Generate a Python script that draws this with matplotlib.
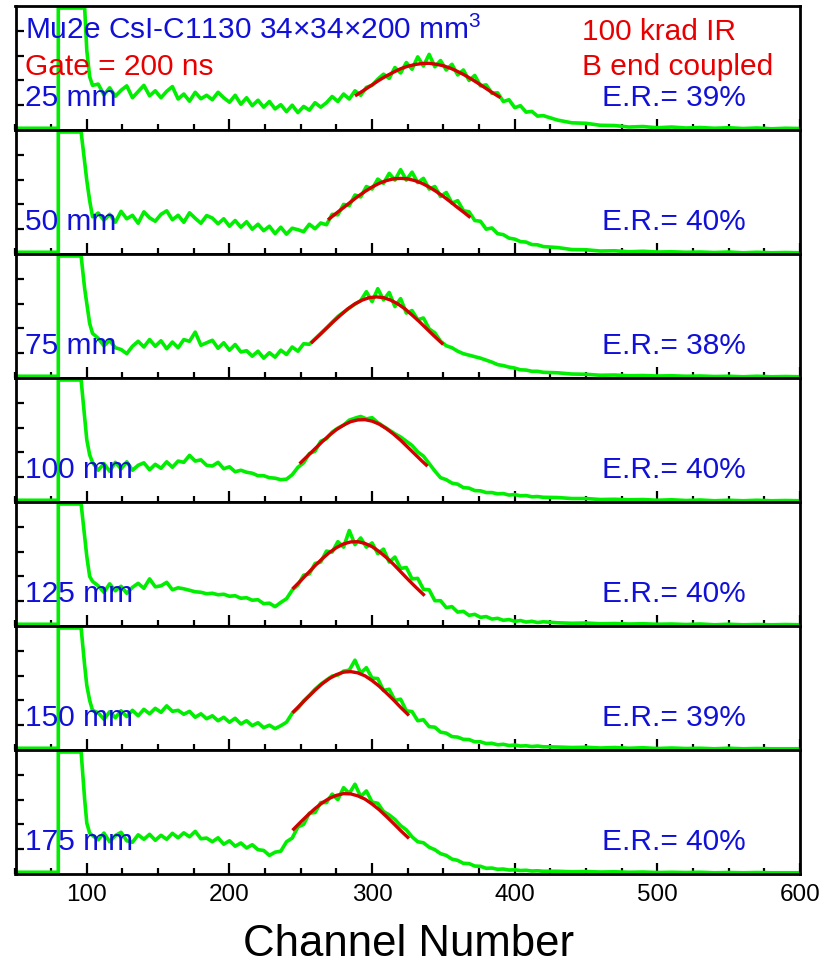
import numpy as np
import matplotlib
matplotlib.use("Agg")
import matplotlib.pyplot as plt

plt.rcParams['font.family'] = ['Liberation Sans', 'DejaVu Sans']
plt.rcParams['mathtext.default'] = 'regular'

# ---------------- data ----------------
head_ch = [50, 80, 80, 96, 98.5, 100, 102, 104]
body_ch = list(range(108, 424, 4))
tail_ch = list(range(430, 610, 10))
channels = head_ch + body_ch + tail_ch

distances = ['25 mm', '50 mm', '75 mm', '100 mm', '125 mm', '150 mm', '175 mm']
energy_res = ['39%', '40%', '38%', '40%', '40%', '39%', '40%']

counts_25 = [0.07, 0.07, 4.92, 4.92, 4.92, 3.2, 2.15, 1.8,
             1.85, 1.42, 1.70, 1.36, 1.60, 1.78, 1.30, 1.55, 1.80, 1.38,
             1.58, 1.30, 1.56, 1.75, 1.25, 1.45, 1.16, 1.52, 1.26, 1.40,
             1.22, 1.52, 1.30, 1.12, 1.40, 1.04, 1.30, 0.98, 1.20, 0.92,
             1.15, 0.85, 1.02, 0.74, 1.00, 0.70, 0.95, 0.80, 1.10, 0.92,
             1.10, 1.35, 1.15, 1.45, 1.25, 1.58, 1.40, 1.72, 1.80, 2.05,
             2.25, 2.08, 2.52, 2.30, 2.72, 2.45, 2.95, 2.58, 3.05, 2.55,
             2.80, 2.42, 2.65, 2.22, 2.42, 2.00, 2.20, 1.78, 1.82, 1.48,
             1.50, 1.15, 1.22, 0.90, 0.98, 0.72, 0.75, 0.56, 0.58,
             0.40, 0.29, 0.27, 0.19, 0.18, 0.12, 0.14, 0.09, 0.12, 0.08,
             0.10, 0.07, 0.09, 0.06, 0.08, 0.05, 0.07, 0.06]

counts_50 = [0.07, 0.07, 4.92, 4.92, 3.7, 2.96, 2.15, 1.5,
             1.65, 1.36, 1.60, 1.28, 1.72, 1.42, 1.56, 1.24, 1.70, 1.46,
             1.32, 1.60, 1.74, 1.38, 1.56, 1.28, 1.66, 1.44, 1.24, 1.55,
             1.45, 1.22, 1.42, 1.12, 1.35, 1.08, 1.30, 1.00, 1.20, 0.94,
             1.12, 0.82, 1.08, 0.80, 1.04, 0.98, 0.90, 1.20, 1.02, 1.25,
             1.18, 1.60, 1.58, 2.00, 1.95, 2.38, 2.30, 2.72, 2.62, 3.02,
             2.85, 3.25, 2.98, 3.40, 2.98, 3.30, 2.88, 3.05, 2.62, 2.72,
             2.32, 2.48, 2.05, 2.15, 1.75, 1.70, 1.35, 1.32, 1.00, 1.05,
             0.82, 0.78, 0.64, 0.60, 0.50, 0.48, 0.38, 0.37, 0.30,
             0.26, 0.18, 0.17, 0.12, 0.13, 0.09, 0.11, 0.08, 0.09, 0.07,
             0.08, 0.06, 0.08, 0.05, 0.07, 0.05, 0.06, 0.05]

counts_75 = [0.07, 0.07, 4.92, 4.92, 3.6, 3.0, 2.2, 1.8,
             1.60, 1.30, 1.52, 1.22, 1.15, 0.98, 1.28, 1.48, 1.25, 1.55,
             1.28, 1.50, 1.18, 1.45, 1.22, 1.55, 1.48, 1.85, 1.32, 1.42,
             1.52, 1.20, 1.42, 1.12, 1.35, 1.05, 1.10, 0.88, 1.08, 0.80,
             1.02, 0.84, 1.12, 0.95, 1.25, 1.08, 1.38, 1.36, 1.58, 1.80,
             2.02, 2.25, 2.48, 2.65, 2.82, 2.98, 3.12, 3.48, 3.08, 3.60,
             3.15, 3.45, 2.88, 3.20, 2.62, 2.72, 2.35, 2.42, 1.98, 1.82,
             1.48, 1.30, 1.22, 1.08, 0.98, 0.92, 0.86, 0.80, 0.72, 0.64,
             0.54, 0.50, 0.44, 0.40, 0.33, 0.32, 0.27, 0.27, 0.23,
             0.21, 0.16, 0.15, 0.11, 0.12, 0.09, 0.10, 0.08, 0.09, 0.07,
             0.08, 0.06, 0.07, 0.05, 0.07, 0.05, 0.06, 0.05]

counts_100 = [0.07, 0.07, 4.92, 4.92, 3.4, 2.5, 1.9, 1.6,
              1.28, 1.55, 1.24, 1.60, 1.34, 1.62, 1.28, 1.48, 1.58, 1.30,
              1.52, 1.36, 1.62, 1.40, 1.65, 1.60, 1.88, 1.65, 1.70, 1.48,
              1.45, 1.60, 1.34, 1.42, 1.22, 1.28, 1.20, 1.16, 1.06, 1.06,
              0.98, 0.96, 0.90, 0.92, 1.10, 1.40, 1.58, 1.95, 2.05, 2.45,
              2.55, 2.82, 2.98, 3.10, 3.30, 3.38, 3.45, 3.35, 3.40, 3.20,
              3.05, 2.90, 2.75, 2.62, 2.45, 2.28, 2.02, 1.85, 1.55, 1.25,
              0.98, 0.90, 0.76, 0.72, 0.58, 0.56, 0.46, 0.45, 0.38, 0.38,
              0.33, 0.34, 0.28, 0.30, 0.25, 0.26, 0.21, 0.22, 0.19,
              0.18, 0.14, 0.14, 0.10, 0.11, 0.09, 0.10, 0.07, 0.09, 0.06,
              0.08, 0.05, 0.07, 0.05, 0.07, 0.05, 0.06, 0.05]

counts_125 = [0.07, 0.07, 4.92, 4.92, 3.6, 2.8, 2.0, 1.8,
              1.62, 1.36, 1.70, 1.42, 1.60, 1.32, 1.56, 1.72, 1.52, 1.90,
              1.58, 1.62, 1.76, 1.46, 1.54, 1.50, 1.44, 1.38, 1.36, 1.30,
              1.32, 1.26, 1.28, 1.20, 1.22, 1.12, 1.14, 1.04, 1.06, 0.90,
              0.92, 0.78, 0.95, 1.10, 1.45, 1.65, 2.05, 2.10, 2.52, 2.58,
              3.02, 2.98, 3.40, 3.18, 3.85, 3.28, 3.55, 3.18, 3.35, 2.92,
              3.10, 2.58, 2.78, 2.32, 2.36, 1.90, 1.92, 1.48, 1.46, 1.02,
              1.02, 0.74, 0.78, 0.56, 0.59, 0.43, 0.47, 0.35, 0.38, 0.28,
              0.31, 0.23, 0.26, 0.19, 0.22, 0.16, 0.19, 0.14, 0.17,
              0.13, 0.11, 0.12, 0.09, 0.10, 0.08, 0.09, 0.07, 0.08, 0.06,
              0.08, 0.05, 0.07, 0.05, 0.06, 0.05, 0.06, 0.05]

counts_150 = [0.07, 0.07, 4.92, 4.92, 3.4, 2.6, 2.0, 1.6,
              1.50, 1.24, 1.54, 1.30, 1.58, 1.35, 1.60, 1.38, 1.64, 1.46,
              1.68, 1.52, 1.78, 1.56, 1.60, 1.44, 1.56, 1.32, 1.46, 1.26,
              1.38, 1.18, 1.32, 1.12, 1.28, 1.05, 1.18, 0.98, 1.10, 0.90,
              1.00, 0.86, 0.98, 1.12, 1.48, 1.68, 1.98, 2.20, 2.45, 2.65,
              2.82, 2.98, 3.02, 3.18, 3.22, 3.62, 3.10, 3.32, 2.90, 2.88,
              2.40, 2.45, 2.00, 2.05, 1.58, 1.55, 1.18, 1.22, 0.94, 0.92,
              0.72, 0.68, 0.54, 0.52, 0.43, 0.42, 0.33, 0.33, 0.26, 0.27,
              0.21, 0.23, 0.18, 0.20, 0.16, 0.17, 0.14, 0.16, 0.13,
              0.12, 0.10, 0.11, 0.08, 0.10, 0.07, 0.09, 0.06, 0.08, 0.06,
              0.07, 0.05, 0.07, 0.05, 0.06, 0.05, 0.05, 0.05]

counts_175 = [0.07, 0.07, 4.92, 4.92, 3.0, 2.05, 1.65, 1.55,
              1.38, 1.65, 1.30, 1.55, 1.68, 1.34, 1.28, 1.58, 1.40, 1.60,
              1.36, 1.56, 1.40, 1.64, 1.46, 1.66, 1.50, 1.72, 1.42, 1.45,
              1.30, 1.46, 1.20, 1.34, 1.12, 1.25, 1.05, 1.18, 0.98, 0.95,
              0.75, 0.88, 0.92, 1.30, 1.45, 1.90, 2.00, 2.45, 2.48, 2.88,
              2.88, 3.22, 3.00, 3.48, 3.25, 3.62, 3.12, 3.35, 2.90, 2.85,
              2.52, 2.38, 2.20, 1.95, 1.78, 1.50, 1.30, 1.26, 1.08, 0.98,
              0.82, 0.75, 0.60, 0.55, 0.43, 0.42, 0.32, 0.31, 0.23, 0.24,
              0.19, 0.20, 0.16, 0.17, 0.14, 0.15, 0.12, 0.13, 0.11,
              0.11, 0.09, 0.10, 0.08, 0.09, 0.07, 0.08, 0.06, 0.07, 0.06,
              0.07, 0.05, 0.06, 0.05, 0.06, 0.05, 0.05, 0.05]

fit_x_25 = [289, 295, 300, 305, 310, 315, 320, 325, 330, 335, 340, 345, 350, 355, 360, 365, 370, 375, 380, 385, 389]
fit_y_25 = [1.41, 1.63, 1.82, 2.01, 2.18, 2.33, 2.47, 2.57, 2.64, 2.68, 2.69, 2.65, 2.59, 2.49, 2.36, 2.21, 2.04, 1.86, 1.67, 1.48, 1.34]
fit_x_50 = [270, 275, 280, 285, 290, 295, 300, 305, 310, 315, 320, 325, 330, 335, 340, 345, 350, 355, 360, 365, 368]
fit_y_50 = [1.42, 1.65, 1.87, 2.10, 2.32, 2.52, 2.70, 2.85, 2.96, 3.03, 3.05, 3.03, 2.96, 2.85, 2.70, 2.52, 2.32, 2.10, 1.87, 1.65, 1.51]
fit_x_75 = [258, 263, 268, 273, 278, 283, 288, 293, 298, 303, 308, 313, 318, 323, 328, 333, 338, 343, 349]
fit_y_75 = [1.45, 1.72, 2.00, 2.28, 2.54, 2.79, 2.99, 3.14, 3.24, 3.27, 3.24, 3.14, 2.99, 2.79, 2.54, 2.28, 2.00, 1.72, 1.40]
fit_x_100 = [250, 255, 260, 265, 270, 275, 280, 285, 290, 295, 300, 305, 310, 315, 320, 325, 330, 335, 338]
fit_y_100 = [1.59, 1.87, 2.15, 2.43, 2.69, 2.92, 3.10, 3.24, 3.31, 3.32, 3.26, 3.14, 2.96, 2.74, 2.49, 2.21, 1.93, 1.65, 1.49]
fit_x_125 = [245, 250, 255, 260, 265, 270, 275, 280, 285, 290, 295, 300, 305, 310, 315, 320, 325, 330, 336]
fit_y_125 = [1.54, 1.83, 2.13, 2.43, 2.71, 2.96, 3.16, 3.31, 3.39, 3.40, 3.33, 3.20, 3.00, 2.76, 2.49, 2.19, 1.89, 1.60, 1.27]
fit_x_150 = [245, 250, 255, 260, 265, 270, 275, 280, 285, 290, 295, 300, 305, 310, 315, 320, 325]
fit_y_150 = [1.55, 1.84, 2.13, 2.41, 2.67, 2.88, 3.04, 3.14, 3.16, 3.11, 2.99, 2.80, 2.57, 2.30, 2.02, 1.72, 1.44]
fit_x_175 = [245, 250, 255, 260, 265, 270, 275, 280, 285, 290, 295, 300, 305, 310, 315, 320, 325]
fit_y_175 = [1.81, 2.10, 2.38, 2.64, 2.87, 3.05, 3.17, 3.24, 3.23, 3.15, 3.02, 2.82, 2.59, 2.32, 2.04, 1.75, 1.48]

all_counts = [counts_25, counts_50, counts_75, counts_100, counts_125, counts_150, counts_175]
all_fit_x = [fit_x_25, fit_x_50, fit_x_75, fit_x_100, fit_x_125, fit_x_150, fit_x_175]
all_fit_y = [fit_y_25, fit_y_50, fit_y_75, fit_y_100, fit_y_125, fit_y_150, fit_y_175]

for c in all_counts:
    assert len(c) == len(channels), len(c)

# ---------------- style ----------------
GREEN = '#00ee00'
FIT_RED = '#d40000'
TXT_RED = '#e80000'
TXT_BLUE = '#1010d8'
FS = 21.5

W, H = 839, 966
fig = plt.figure(figsize=(W / 100, H / 100), dpi=100)
left_px, right_px = 15.5, 800
top_px, panel_px = 6, 124

axes = []
for i in range(7):
    bot = top_px + panel_px * (i + 1)
    ax = fig.add_axes([left_px / W, 1 - bot / H, (right_px - left_px) / W, panel_px / H])
    axes.append(ax)

for i, ax in enumerate(axes):
    ax.plot(channels, all_counts[i], color=GREEN, lw=2.6, zorder=2)
    ax.plot(all_fit_x[i], all_fit_y[i], color=FIT_RED, lw=2.4, zorder=3)
    ax.set_xlim(50, 600)
    ax.set_ylim(0, 5)
    ax.set_xticks(np.arange(100, 601, 100))
    ax.set_xticks(np.arange(50, 601, 25), minor=True)
    ax.set_yticks([1, 2, 3, 4])
    ax.tick_params(axis='x', which='major', direction='in', length=8, width=1.6,
                   top=False, labelsize=17.5, pad=7)
    ax.tick_params(axis='x', which='minor', direction='in', length=4.5, width=1.6, top=False)
    ax.tick_params(axis='y', which='major', direction='in', length=6, width=1.6,
                   right=False, labelleft=False)
    for s in ax.spines.values():
        s.set_linewidth(2.0)
    if i < 6:
        ax.tick_params(axis='x', labelbottom=False)
    ax.text(0.012, 0.195, distances[i], transform=ax.transAxes, color=TXT_BLUE,
            fontsize=FS, ha='left', va='baseline', zorder=4)
    ax.text(0.7475, 0.195, 'E.R.= ' + energy_res[i], transform=ax.transAxes, color=TXT_BLUE,
            fontsize=FS, ha='left', va='baseline', zorder=4)

ax0 = axes[0]
ax0.text(0.012, 0.734, 'Mu2e CsI-C1130 34\u00d734\u00d7200 mm$^{3}$', transform=ax0.transAxes,
         color=TXT_BLUE, fontsize=FS, ha='left', va='baseline', zorder=4)
ax0.text(0.012, 0.444, 'Gate = 200 ns', transform=ax0.transAxes,
         color=TXT_RED, fontsize=FS, ha='left', va='baseline', zorder=4)
ax0.text(0.7217, 0.726, '100 krad IR', transform=ax0.transAxes,
         color=TXT_RED, fontsize=FS, ha='left', va='baseline', zorder=4)
ax0.text(0.7217, 0.444, 'B end coupled', transform=ax0.transAxes,
         color=TXT_RED, fontsize=FS, ha='left', va='baseline', zorder=4)

fig.text(409 / W, 1 / H, 'Channel Number', fontsize=31.5, ha='center', va='bottom')

fig.savefig('out.png', dpi=100)
